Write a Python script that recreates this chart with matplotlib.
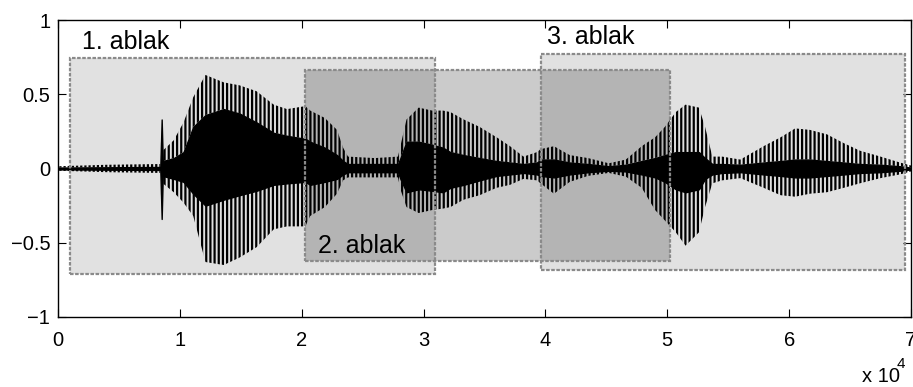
import numpy as np
import matplotlib.pyplot as plt
from matplotlib.patches import Rectangle

plt.rcParams['font.family'] = ['Liberation Sans', 'DejaVu Sans']
plt.rcParams['hatch.linewidth'] = 1.6

# envelope knots of the speech signal (sample index)
knot_x = [0, 4000, 8400, 8510, 8600, 9500, 10300, 11100, 12100, 13600,
          14900, 16300, 17700, 18800, 20300, 20700, 21900, 22900, 23400, 23800,
          26000, 27900, 28100, 28600, 29600, 30700, 31600, 32200, 33300, 34600,
          36000, 37100, 38200, 39300, 39600, 40700, 42000, 43500, 45200, 46600,
          47900, 49000, 49800, 50700, 51500, 52600, 53100, 53700, 54500, 56000,
          57900, 59300, 60500, 61700, 63100, 64500, 65800, 67500, 69100, 70000]

# outer envelope (pitch-pulse peaks)
peak_hi = [0.015, 0.025, 0.03, 0.33, 0.12, 0.19, 0.31, 0.48, 0.63, 0.58,
           0.56, 0.52, 0.43, 0.40, 0.42, 0.39, 0.34, 0.26, 0.14, 0.08,
           0.07, 0.08, 0.15, 0.33, 0.41, 0.39, 0.39, 0.38, 0.33, 0.28,
           0.21, 0.15, 0.08, 0.11, 0.13, 0.15, 0.09, 0.07, 0.035, 0.06,
           0.15, 0.21, 0.28, 0.38, 0.43, 0.41, 0.28, 0.08, 0.08, 0.06,
           0.15, 0.21, 0.27, 0.26, 0.23, 0.17, 0.12, 0.08, 0.04, 0.02]
peak_lo = [-0.015, -0.025, -0.03, -0.34, -0.10, -0.16, -0.23, -0.32, -0.63, -0.65,
           -0.60, -0.53, -0.41, -0.39, -0.39, -0.32, -0.26, -0.17, -0.08, -0.06,
           -0.06, -0.06, -0.14, -0.26, -0.30, -0.28, -0.27, -0.26, -0.21, -0.18,
           -0.13, -0.11, -0.07, -0.08, -0.10, -0.17, -0.09, -0.05, -0.03, -0.055,
           -0.13, -0.28, -0.35, -0.43, -0.52, -0.43, -0.26, -0.10, -0.08, -0.065,
           -0.13, -0.18, -0.19, -0.17, -0.16, -0.13, -0.10, -0.065, -0.04, -0.02]

# dense core between pulses (onset click at 8510 is solid)
core_hi = [0.006, 0.008, 0.01, 0.33, 0.05, 0.07, 0.11, 0.28, 0.36, 0.40,
           0.37, 0.31, 0.24, 0.22, 0.20, 0.18, 0.14, 0.09, 0.05, 0.03,
           0.03, 0.03, 0.07, 0.18, 0.18, 0.16, 0.14, 0.11, 0.09, 0.07,
           0.05, 0.04, 0.03, 0.04, 0.06, 0.06, 0.04, 0.03, 0.015, 0.025,
           0.05, 0.07, 0.09, 0.11, 0.11, 0.11, 0.07, 0.03, 0.03, 0.025,
           0.04, 0.05, 0.06, 0.06, 0.05, 0.04, 0.03, 0.025, 0.015, 0.006]
core_lo = [-0.006, -0.008, -0.01, -0.34, -0.05, -0.07, -0.09, -0.17, -0.25, -0.21,
           -0.18, -0.15, -0.11, -0.10, -0.09, -0.11, -0.09, -0.07, -0.04, -0.025,
           -0.025, -0.025, -0.07, -0.16, -0.14, -0.15, -0.16, -0.13, -0.11, -0.08,
           -0.05, -0.04, -0.03, -0.04, -0.05, -0.06, -0.04, -0.025, -0.015, -0.02,
           -0.04, -0.06, -0.09, -0.14, -0.16, -0.14, -0.07, -0.04, -0.03, -0.025,
           -0.04, -0.05, -0.06, -0.06, -0.05, -0.04, -0.03, -0.025, -0.015, -0.006]

# analysis windows: start, end, top, bottom
win_names = ['1. ablak', '2. ablak', '3. ablak']
win_start = [1000, 20300, 39600]
win_end = [30900, 50200, 69500]
win_top = [0.745, 0.665, 0.77]
win_bottom = [-0.71, -0.625, -0.685]
label_x = [1950, 21300, 40100]
label_y = [0.85, -0.52, 0.885]

fig = plt.figure(figsize=(9.13, 3.87), dpi=100)
ax = fig.add_axes([0.0635, 0.181, 0.9343, 0.7673])

# window fills: 1 and 3 light, 2 translucent on top
for i in (0, 2):
    ax.add_patch(Rectangle((win_start[i], win_bottom[i]), win_end[i] - win_start[i],
                           win_top[i] - win_bottom[i], facecolor='#e1e1e1',
                           edgecolor='none', zorder=1))
ax.add_patch(Rectangle((win_start[1], win_bottom[1]), win_end[1] - win_start[1],
                       win_top[1] - win_bottom[1], facecolor='#202020', alpha=0.23,
                       edgecolor='none', zorder=1.5))

# waveform: solid core plus striped pulse peaks
x = np.array(knot_x)
ax.fill_between(x, core_lo, core_hi, color='black', lw=1.0, zorder=2)
ax.fill_between(x, core_hi, peak_hi, facecolor='none', edgecolor='black',
                hatch='||||', lw=0, zorder=2)
ax.fill_between(x, peak_lo, core_lo, facecolor='none', edgecolor='black',
                hatch='||||', lw=0, zorder=2)

# dashed window borders
for i in range(3):
    ax.add_patch(Rectangle((win_start[i], win_bottom[i]), win_end[i] - win_start[i],
                           win_top[i] - win_bottom[i], facecolor='none',
                           edgecolor='#8a8a8a', lw=1.6, ls=(0, (1.6, 0.7)),
                           zorder=3))

for name, lx, ly in zip(win_names, label_x, label_y):
    ax.text(lx, ly, name, fontsize=18, ha='left', va='center', zorder=4)

ax.set_xlim(0, 70000)
ax.set_ylim(-1, 1)
ax.set_xticks(np.arange(0, 70001, 10000))
ax.set_xticklabels([str(v) for v in range(8)])
ax.set_yticks([-1, -0.5, 0, 0.5, 1])
ax.set_yticklabels(['\u22121', '\u22120.5', '0', '0.5', '1'])
ax.tick_params(direction='in', top=True, right=True, length=6, width=0.8,
               labelsize=14.5)
ax.tick_params(axis='x', pad=10)
ax.tick_params(axis='y', pad=5.5)
for sp in ax.spines.values():
    sp.set_linewidth(1.0)

fig.text(862 / 913, 1 - 377 / 387, 'x 10', fontsize=14.5, ha='left', va='center')
fig.text(897 / 913, 1 - 364 / 387, '4', fontsize=11, ha='left', va='center')

fig.savefig('out.png', dpi=100)
